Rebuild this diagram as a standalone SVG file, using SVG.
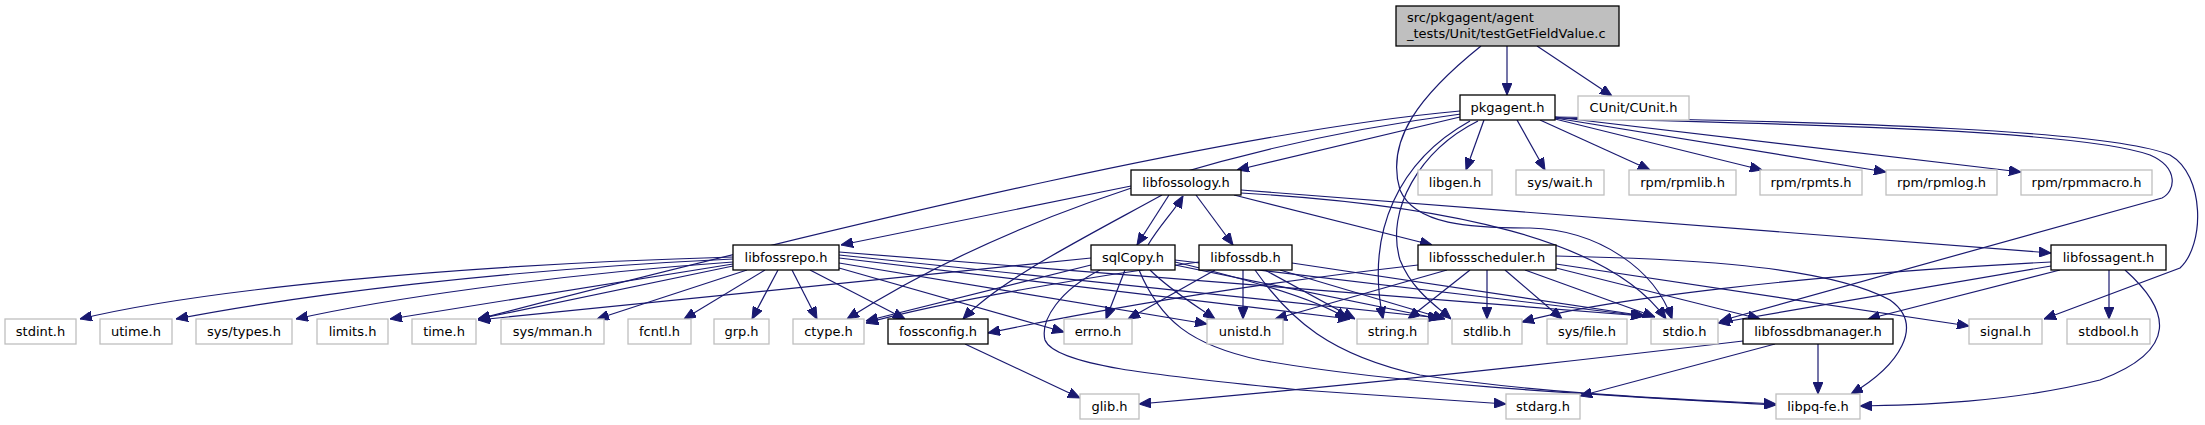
<svg xmlns="http://www.w3.org/2000/svg" width="2205" height="425" viewBox="0 0 2205 425">
<style>
.e{fill:none;stroke:#191970;stroke-width:1.2;marker-end:url(#a)}
.g rect{fill:#fff;stroke:#bfbfbf;stroke-width:1.3}
.b rect{fill:#fff;stroke:#000;stroke-width:1.3}
.r rect{fill:#bfbfbf;stroke:#000;stroke-width:1.3}
text{font-family:"DejaVu Sans","Liberation Sans",sans-serif;font-size:13px;fill:#000}
.n text{text-anchor:middle}
</style>
<defs>
<marker id="a" markerUnits="userSpaceOnUse" markerWidth="12" markerHeight="10" viewBox="0 0 12 10" refX="12" refY="5" orient="auto">
<path d="M0,0 L12,5 L0,10 z" fill="#191970" stroke="#191970" stroke-width="1"/>
</marker>
</defs>
<rect width="2205" height="425" fill="#fff"/>
<g id="edges">
<path class="e" d="M1507,46 L1507,95"/>
<path class="e" d="M1537,46 L1612,96"/>
<path class="e" d="M1481,46 C1420,95 1385,140 1400,190 C1415,225 1470,228 1530,228 C1600,230 1655,270 1672,319"/>
<path class="e" d="M1460,117 L1237,170"/>
<path class="e" d="M1460,111 C1250,130 900,210 478,319"/>
<path class="e" d="M1461,114 C1300,135 1050,190 847,319"/>
<path class="e" d="M1470,121 C1400,160 1365,230 1383,319"/>
<path class="e" d="M1478,121 C1420,150 1385,210 1400,260 C1412,290 1435,305 1451,319"/>
<path class="e" d="M1484,120 L1466,170"/>
<path class="e" d="M1517,120 L1545,170"/>
<path class="e" d="M1540,120 L1650,170"/>
<path class="e" d="M1555,119 L1762,170"/>
<path class="e" d="M1555,118 L1886,172"/>
<path class="e" d="M1555,117 L2021,172"/>
<path class="e" d="M1555,118 C1800,124 2080,130 2150,155 C2180,168 2175,192 2162,198 L1720,321"/>
<path class="e" d="M1555,117 C1850,122 2110,130 2170,155 C2205,175 2205,245 2180,268 L2044,319"/>
<path class="e" d="M1131,186 L841,245"/>
<path class="e" d="M1169,195 L1137,245"/>
<path class="e" d="M1196,195 L1233,245"/>
<path class="e" d="M1234,195 L1432,245"/>
<path class="e" d="M1241,190 L2051,253"/>
<path class="e" d="M1241,193 C1450,205 1610,240 1666,319"/>
<path class="e" d="M1162,195 C1080,240 1000,280 963,319"/>
<path class="e" d="M1148,245 C1160,225 1175,210 1183,196"/>
<path class="e" d="M1125,270 L1106,319"/>
<path class="e" d="M1150,270 C1170,290 1195,305 1215,319"/>
<path class="e" d="M1175,262 C1250,280 1320,300 1347,319"/>
<path class="e" d="M1175,265 L1440,319"/>
<path class="e" d="M1175,260 L1643,316"/>
<path class="e" d="M1091,265 L866,321"/>
<path class="e" d="M1091,258 L478,320"/>
<path class="e" d="M1100,270 C1060,290 1040,320 1045,340 C1055,365 1150,375 1300,390 L1506,404"/>
<path class="e" d="M1139,270 C1160,320 1190,345 1260,360 C1400,385 1600,395 1776,405"/>
<path class="e" d="M1215,270 L1128,319"/>
<path class="e" d="M1243,270 L1243,319"/>
<path class="e" d="M1265,270 L1355,319"/>
<path class="e" d="M1280,270 L1445,319"/>
<path class="e" d="M1292,263 L1645,316"/>
<path class="e" d="M1199,262 C1100,275 950,300 866,323"/>
<path class="e" d="M1255,270 C1290,320 1330,355 1420,375 C1550,395 1700,400 1776,404"/>
<path class="e" d="M733,257 C450,265 200,290 80,319"/>
<path class="e" d="M733,259 C500,270 300,295 176,319"/>
<path class="e" d="M733,262 C550,275 380,300 296,319"/>
<path class="e" d="M733,264 L390,319"/>
<path class="e" d="M733,266 L478,319"/>
<path class="e" d="M747,270 L597,319"/>
<path class="e" d="M765,270 L684,319"/>
<path class="e" d="M778,270 L752,319"/>
<path class="e" d="M792,270 L817,319"/>
<path class="e" d="M810,270 L905,319"/>
<path class="e" d="M839,268 L1064,332"/>
<path class="e" d="M839,263 L1207,324"/>
<path class="e" d="M839,258 L1350,319"/>
<path class="e" d="M839,255 L1440,318"/>
<path class="e" d="M839,252 L1643,316"/>
<path class="e" d="M1418,265 C1200,290 1050,320 988,333"/>
<path class="e" d="M1447,270 L1275,319"/>
<path class="e" d="M1470,270 L1408,319"/>
<path class="e" d="M1487,270 L1487,319"/>
<path class="e" d="M1505,270 L1562,319"/>
<path class="e" d="M1525,270 L1655,317"/>
<path class="e" d="M1556,268 L1760,319"/>
<path class="e" d="M1556,264 L1969,326"/>
<path class="e" d="M1556,256 C1650,258 1820,262 1890,300 C1925,325 1900,365 1851,394"/>
<path class="e" d="M2051,262 C1800,275 1600,300 1522,322"/>
<path class="e" d="M2051,266 L1718,323"/>
<path class="e" d="M2060,270 L1868,319"/>
<path class="e" d="M2109,270 L2109,319"/>
<path class="e" d="M2125,270 C2170,310 2180,350 2100,380 C2000,405 1900,405 1860,406"/>
<path class="e" d="M1743,341 C1500,370 1300,390 1139,404"/>
<path class="e" d="M1775,344 L1580,396"/>
<path class="e" d="M1818,344 L1818,394"/>
<path class="e" d="M965,344 L1080,398"/>
</g>
<g id="root" class="r"><rect x="1396" y="6" width="223" height="40"/><text x="1407" y="22">src/pkgagent/agent</text><text x="1407" y="38">_tests/Unit/testGetFieldValue.c</text></g>
<g id="pkgagent" class="n b"><rect x="1460" y="95" width="95" height="25"/><text x="1507.5" y="112">pkgagent.h</text></g>
<g id="cunit" class="n g"><rect x="1578" y="96" width="111" height="24"/><text x="1633.5" y="112">CUnit/CUnit.h</text></g>
<g id="libfossology" class="n b"><rect x="1131" y="170" width="110" height="25"/><text x="1186" y="187">libfossology.h</text></g>
<g id="libgen" class="n g"><rect x="1418" y="170" width="74" height="25"/><text x="1455" y="187">libgen.h</text></g>
<g id="syswait" class="n g"><rect x="1516" y="170" width="88" height="25"/><text x="1560" y="187">sys/wait.h</text></g>
<g id="rpmlib" class="n g"><rect x="1629" y="170" width="107" height="25"/><text x="1682.5" y="187">rpm/rpmlib.h</text></g>
<g id="rpmts" class="n g"><rect x="1760" y="170" width="102" height="25"/><text x="1811" y="187">rpm/rpmts.h</text></g>
<g id="rpmlog" class="n g"><rect x="1886" y="170" width="111" height="25"/><text x="1941.5" y="187">rpm/rpmlog.h</text></g>
<g id="rpmmacro" class="n g"><rect x="2021" y="170" width="131" height="25"/><text x="2086.5" y="187">rpm/rpmmacro.h</text></g>
<g id="libfossrepo" class="n b"><rect x="733" y="245" width="106" height="25"/><text x="786" y="262">libfossrepo.h</text></g>
<g id="sqlcopy" class="n b"><rect x="1091" y="245" width="84" height="25"/><text x="1133" y="262">sqlCopy.h</text></g>
<g id="libfossdb" class="n b"><rect x="1199" y="245" width="93" height="25"/><text x="1245.5" y="262">libfossdb.h</text></g>
<g id="libfossscheduler" class="n b"><rect x="1418" y="245" width="138" height="25"/><text x="1487" y="262">libfossscheduler.h</text></g>
<g id="libfossagent" class="n b"><rect x="2051" y="245" width="115" height="25"/><text x="2108.5" y="262">libfossagent.h</text></g>
<g id="stdint" class="n g"><rect x="5" y="319" width="71" height="25"/><text x="40.5" y="336">stdint.h</text></g>
<g id="utime" class="n g"><rect x="100" y="319" width="72" height="25"/><text x="136" y="336">utime.h</text></g>
<g id="systypes" class="n g"><rect x="196" y="319" width="96" height="25"/><text x="244" y="336">sys/types.h</text></g>
<g id="limits" class="n g"><rect x="317" y="319" width="71" height="25"/><text x="352.5" y="336">limits.h</text></g>
<g id="time" class="n g"><rect x="412" y="319" width="64" height="25"/><text x="444" y="336">time.h</text></g>
<g id="sysmman" class="n g"><rect x="501" y="319" width="103" height="25"/><text x="552.5" y="336">sys/mman.h</text></g>
<g id="fcntl" class="n g"><rect x="628" y="319" width="63" height="25"/><text x="659.5" y="336">fcntl.h</text></g>
<g id="grp" class="n g"><rect x="714" y="319" width="55" height="25"/><text x="741.5" y="336">grp.h</text></g>
<g id="ctype" class="n g"><rect x="793" y="319" width="71" height="25"/><text x="828.5" y="336">ctype.h</text></g>
<g id="fossconfig" class="n b"><rect x="888" y="319" width="100" height="25"/><text x="938" y="336">fossconfig.h</text></g>
<g id="errno" class="n g"><rect x="1064" y="319" width="68" height="25"/><text x="1098" y="336">errno.h</text></g>
<g id="unistd" class="n g"><rect x="1207" y="319" width="76" height="25"/><text x="1245" y="336">unistd.h</text></g>
<g id="string" class="n g"><rect x="1357" y="319" width="71" height="25"/><text x="1392.5" y="336">string.h</text></g>
<g id="stdlib" class="n g"><rect x="1452" y="319" width="70" height="25"/><text x="1487" y="336">stdlib.h</text></g>
<g id="sysfile" class="n g"><rect x="1547" y="319" width="80" height="25"/><text x="1587" y="336">sys/file.h</text></g>
<g id="stdio" class="n g"><rect x="1651" y="319" width="67" height="25"/><text x="1684.5" y="336">stdio.h</text></g>
<g id="libfossdbmanager" class="n b"><rect x="1743" y="319" width="150" height="25"/><text x="1818" y="336">libfossdbmanager.h</text></g>
<g id="signal" class="n g"><rect x="1969" y="319" width="73" height="25"/><text x="2005.5" y="336">signal.h</text></g>
<g id="stdbool" class="n g"><rect x="2067" y="319" width="83" height="25"/><text x="2108.5" y="336">stdbool.h</text></g>
<g id="glib" class="n g"><rect x="1080" y="394" width="59" height="25"/><text x="1109.5" y="411">glib.h</text></g>
<g id="stdarg" class="n g"><rect x="1506" y="394" width="74" height="25"/><text x="1543" y="411">stdarg.h</text></g>
<g id="libpqfe" class="n g"><rect x="1776" y="394" width="84" height="25"/><text x="1818" y="411">libpq-fe.h</text></g>
</svg>
